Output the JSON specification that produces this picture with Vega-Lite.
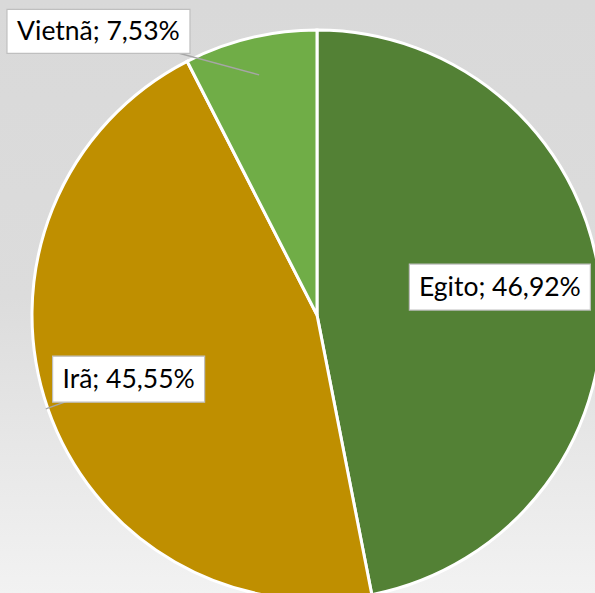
{
  "$schema": "https://vega.github.io/schema/vega-lite/v6.json",
  "width": 595,
  "height": 593,
  "padding": 0,
  "autosize": {"type": "none"},
  "background": "#d9d9d9",
  "config": {
    "view": {
      "stroke": null,
      "fill": {
        "gradient": "linear", "x1": 0, "y1": 0, "x2": 0, "y2": 1,
        "stops": [
          {"offset": 0, "color": "#d9d9d9"},
          {"offset": 0.5, "color": "#dcdcdc"},
          {"offset": 1, "color": "#f2f2f2"}
        ]
      }
    }
  },
  "data": {
    "values": [
      {"pais": "Egito", "valor": 46.92},
      {"pais": "Irã", "valor": 45.55},
      {"pais": "Vietnã", "valor": 7.53}
    ]
  },
  "transform": [
    {"window": [{"op": "sum", "field": "valor", "as": "acum"}], "sort": [{"field": "valor", "order": "descending"}], "frame": [null, 0]},
    {"joinaggregate": [{"op": "sum", "field": "valor", "as": "total"}]},
    {"calculate": "2 * PI * (datum.acum - datum.valor / 2) / datum.total", "as": "meio"},
    {"calculate": "datum.pais === 'Vietnã' ? 358 : datum.pais === 'Egito' ? 185 : 199", "as": "rr"},
    {"calculate": "datum.pais === 'Vietnã' ? -0.42 : datum.pais === 'Egito' ? -0.055 : 0.005", "as": "dd"},
    {"calculate": "datum.rr * sin(datum.meio + datum.dd)", "as": "lx"},
    {"calculate": "datum.rr * cos(datum.meio + datum.dd)", "as": "ly"},
    {"calculate": "datum.pais === 'Vietnã' ? 247 : 287", "as": "pr"},
    {"calculate": "datum.pr * sin(datum.meio)", "as": "px"},
    {"calculate": "datum.pr * cos(datum.meio)", "as": "py"},
    {"calculate": "datum.pais + '; ' + replace(format(datum.valor, '.2f'), '.', ',') + '%'", "as": "rotulo"}
  ],
  "layer": [
    {
      "mark": {"type": "arc", "outerRadius": 285, "stroke": "white", "strokeWidth": 3},
      "encoding": {
        "theta": {"field": "valor", "type": "quantitative", "stack": true},
        "order": {"field": "valor", "sort": "descending"},
        "color": {
          "field": "pais", "type": "nominal",
          "scale": {"domain": ["Egito", "Irã", "Vietnã"], "range": ["#538135", "#bf8f00", "#70ad47"]},
          "legend": null
        },
        "x": {"datum": 0, "type": "quantitative", "scale": {"domain": [-317, 278], "nice": false, "zero": false}, "axis": null},
        "y": {"datum": 0, "type": "quantitative", "scale": {"domain": [-278, 315], "nice": false, "zero": false}, "axis": null}
      }
    },
    {
      "transform": [{"filter": "datum.pais !== 'Egito'"}],
      "mark": {"type": "rule", "color": "#a6a6a6", "strokeWidth": 1.5},
      "encoding": {
        "x": {"field": "lx", "type": "quantitative"},
        "y": {"field": "ly", "type": "quantitative"},
        "x2": {"field": "px"},
        "y2": {"field": "py"}
      }
    },
    {
      "mark": {"type": "point", "filled": true, "fill": "white", "stroke": "#bfbfbf", "strokeWidth": 1.2, "opacity": 1, "size": 40000},
      "encoding": {
        "x": {"field": "lx", "type": "quantitative"},
        "y": {"field": "ly", "type": "quantitative"},
        "shape": {
          "field": "pais", "type": "nominal",
          "scale": {
            "domain": ["Egito", "Irã", "Vietnã"],
            "range": ["M-0.905,-0.23H0.905V0.23H-0.905Z", "M-0.76,-0.23H0.76V0.23H-0.76Z", "M-0.915,-0.22H0.915V0.22H-0.915Z"]
          },
          "legend": null
        }
      }
    },
    {
      "mark": {"type": "text", "font": "Lato", "fontSize": 26.5, "color": "#000000", "align": "center", "baseline": "middle", "dy": 1},
      "encoding": {
        "x": {"field": "lx", "type": "quantitative"},
        "y": {"field": "ly", "type": "quantitative"},
        "text": {"field": "rotulo"}
      }
    }
  ]
}
